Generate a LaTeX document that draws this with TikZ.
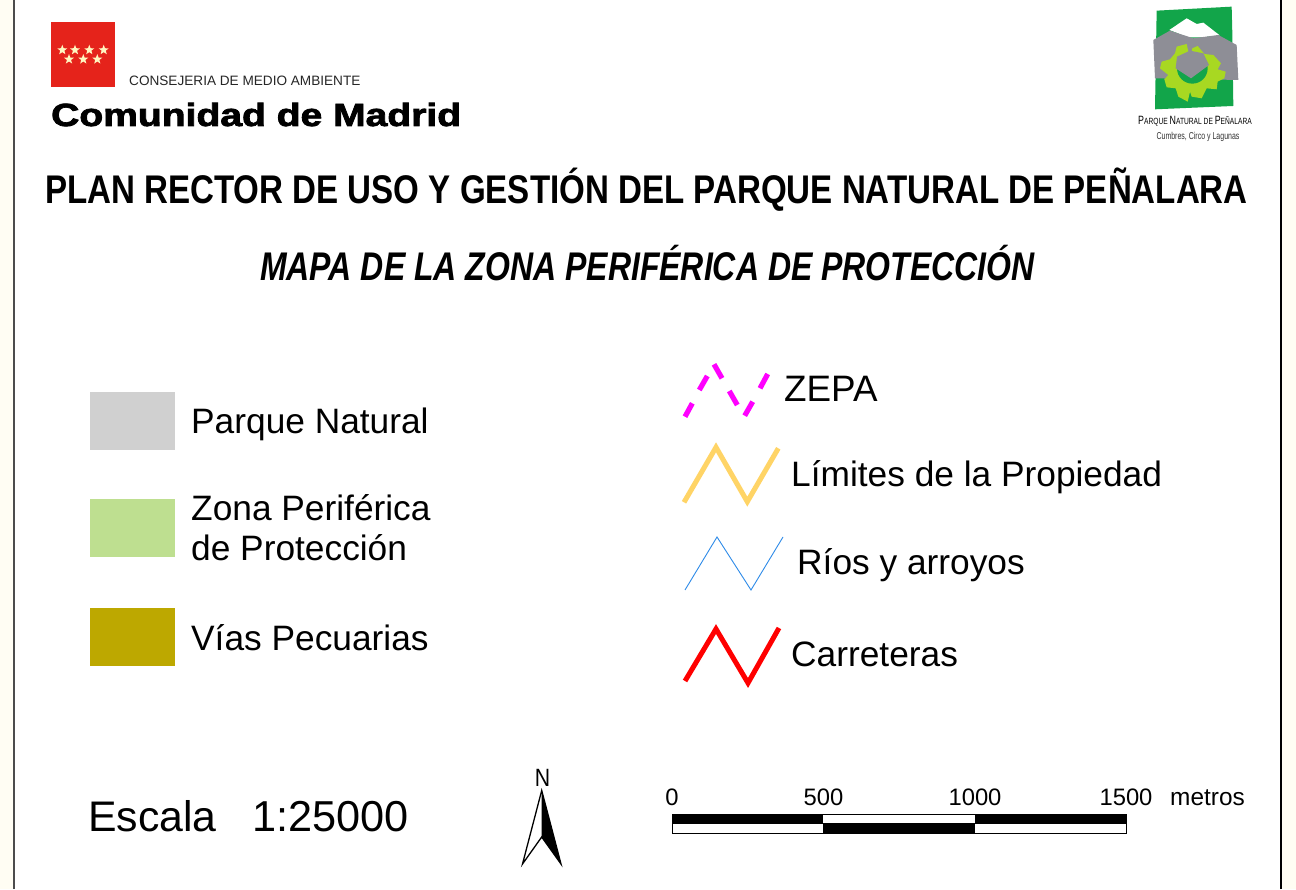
\documentclass[tikz,border=0pt]{standalone}
\usepackage{fontspec}
\usepackage{graphicx}
\setmainfont{Liberation Sans}
\newfontfamily\heavy[FakeBold=2.2]{Liberation Sans Bold}
\usetikzlibrary{shapes.geometric}
\definecolor{bgout}{HTML}{FFFDF3}
\definecolor{mredd}{HTML}{E5231B}
\definecolor{starc}{HTML}{FFF6C0}
\definecolor{cpark}{HTML}{D0D0D0}
\definecolor{czona}{HTML}{BEDF90}
\definecolor{cvias}{HTML}{BDA800}
\definecolor{czepa}{HTML}{FF00FF}
\definecolor{cprop}{HTML}{FFD466}
\definecolor{crios}{HTML}{2E8BE8}
\definecolor{lgreen}{HTML}{12A54A}
\definecolor{lgray}{HTML}{8E8E96}
\definecolor{llime}{HTML}{A8D822}
\tikzset{
 x=1pt,y=1pt,
 legtext/.style={anchor=west,inner sep=0pt,font=\fontsize{35.3}{40}\selectfont,align=left},
 swatch/.style={minimum width=85pt,minimum height=58pt,inner sep=0pt,anchor=north west},
 mstar/.style={star,star points=5,star point ratio=2.4,fill=starc,inner sep=0pt,minimum size=10.5pt},
 zig/.style={line join=miter,line cap=butt},
 sclab/.style={inner sep=0pt,anchor=base,font=\fontsize{23.8}{26}\selectfont}
}
\begin{document}
\begin{tikzpicture}
\useasboundingbox (0,0) rectangle (1296,889);
\fill[bgout] (0,0) rectangle (1296,889);
\fill[white] (14,0) rectangle (1281,889);
\draw[line width=1.3pt,black!70] (14,0) -- (14,889);
\draw[line width=1.3pt,black] (1281,0) -- (1281,889);
% Madrid logo
\fill[mredd] (51,802) rectangle (115,867);
\foreach \n/\px/\py in {a/62.3/50,b/75/50,c/89.3/50,d/103.7/50,e/69/59.3,f/83.3/59.3,g/97.3/59.3}
  \node[mstar,name=s\n] at (\px,889-\py) {};
\node[inner sep=0pt,anchor=base west,font=\fontsize{13.6}{15}\selectfont,text=black!85] (cons) at (129,803) {CONSEJERIA DE MEDIO AMBIENTE};
\node[inner sep=0pt,anchor=base west] (cam) at (51,763) {\scalebox{1.22}[1]{\heavy\fontsize{32}{36}\selectfont Comunidad de Madrid}};
% Peñalara logo
\begin{scope}[shift={(1135,889)},x=0.3333pt,y=-0.3333pt]
\fill[lgreen] (65,32) -- (290,20) -- (292,100) -- (295,318) -- (60,328) -- cycle;
\fill[white] (103,90) -- (155,55) -- (185,72) -- (205,68) -- (254,106) -- (200,112) -- (160,112) -- cycle;
\fill[lgray] (55,120) -- (105,92) -- (175,115) -- (250,105) -- (305,135) -- (310,240) -- (60,235) -- cycle;
\fill[llime] (168,165) -- (172,145) -- (188,138) -- (208,162) -- (235,165) -- (258,190) -- (248,208) -- (272,215)
  -- (268,235) -- (248,245) -- (245,268) -- (215,265) -- (200,295) -- (170,290) -- (165,275) -- (158,305)
  -- (130,290) -- (122,265) -- (95,262) -- (88,238) -- (100,225) -- (75,205) -- (80,185) -- (105,178)
  -- (120,160) -- (125,140) -- (155,132) -- (160,155) -- cycle;
\fill[lgreen] (172,205) circle[radius=46];
\fill[lgray] (122,205) -- (126,170) -- (165,152) -- (205,160) -- (222,195) -- (168,235) -- cycle;
\end{scope}
\node[inner sep=0pt,anchor=center] (lg1) at (1195,767.5) {\scalebox{0.74}[1]{\fontsize{12}{14}\selectfont P\fontsize{9}{14}\selectfont ARQUE \fontsize{12}{14}\selectfont N\fontsize{9}{14}\selectfont ATURAL DE \fontsize{12}{14}\selectfont P\fontsize{9}{14}\selectfont EÑALARA}};
\node[inner sep=0pt,anchor=center,text=black!80] (lg2) at (1198,752.5) {\scalebox{0.7}[1]{\fontsize{10}{12}\selectfont Cumbres, Circo y Lagunas}};
% titles
\node[inner sep=0pt,anchor=base] (t1) at (646.5,685) {\scalebox{0.8275}[1]{\bfseries\fontsize{40}{44}\selectfont PLAN RECTOR DE USO Y GESTIÓN DEL PARQUE NATURAL DE PEÑALARA}};
\node[inner sep=0pt,anchor=base] (t2) at (647.5,608) {\scalebox{0.8}[1]{\bfseries\itshape\fontsize{40}{44}\selectfont MAPA DE LA ZONA PERIFÉRICA DE PROTECCIÓN}};
% left legend
\node[swatch,fill=cpark] (sw1) at (90,497) {};
\node[swatch,fill=czona] (sw2) at (90,390) {};
\node[swatch,fill=cvias] (sw3) at (90,281) {};
\node[legtext] (l1) at (191,465) {Parque Natural};
\node[legtext] (l2) at (191,361) {Zona Periférica\\de Protección};
\node[legtext] (l3) at (191,251.5) {Vías Pecuarias};
% right legend
\begin{scope}[shift={(0,889)},y=-1pt]
\draw[czepa,line width=5.2pt,zig] (685,416.7) -- (692.3,403.3) (699.3,390) -- (707.3,376)
  (714,364.3) -- (722,378.3) (729.3,391) -- (737.3,405)
  (744.7,415.7) -- (752.7,401.7) (760,388.3) -- (767.7,374);
\draw[cprop,line width=5pt,zig] (684,502.3) -- (716,447.3) -- (747.3,501.7) -- (778.3,448.3);
\draw[crios,line width=0.9pt,zig] (685,590) -- (717,537) -- (751,590) -- (783,537);
\draw[red,line width=5pt,zig] (685,681) -- (716,629) -- (748,683) -- (779,628);
\end{scope}
\node[legtext,font=\fontsize{36.8}{40}\selectfont] (r1) at (784,500) {ZEPA};
\node[legtext] (r2) at (791,412) {Límites de la Propiedad};
\node[legtext] (r3) at (797,324) {Ríos y arroyos};
\node[legtext] (r4) at (791,235) {Carreteras};
% bottom
\node[inner sep=0pt,anchor=base west,font=\fontsize{42.8}{46}\selectfont] (esc) at (88,57) {Escala};
\node[inner sep=0pt,anchor=base west,font=\fontsize{43.3}{46}\selectfont] (sca) at (252,57) {1:25000};
% north arrow
\node[inner sep=0pt,anchor=base] (nn) at (542.5,102) {\scalebox{0.85}[1]{\fontsize{25}{28}\selectfont N}};
\coordinate (tip) at (541.7,98.5);
\coordinate (mid) at (541.7,52);
\coordinate (bl) at (522.5,25);
\coordinate (br) at (561,25);
\fill[black] (tip) -- (mid) -- (br) -- cycle;
\draw[line width=1.3pt,line join=miter] (tip) -- (bl) -- (mid) -- (br) -- cycle;
% scale bar
\fill[black] (672,75) rectangle (823,65);
\fill[black] (823,65) rectangle (974.5,56);
\fill[black] (974.5,75) rectangle (1126,65);
\draw[line width=0.7pt] (672,56) rectangle (1126,75);
\draw[line width=0.7pt] (672,65.5) -- (1126,65.5);
\node[sclab] (z0) at (672,83) {0};
\node[sclab] (z1) at (823.5,83) {500};
\node[sclab] (z2) at (975,83) {1000};
\node[sclab] (z3) at (1126,83) {1500};
\node[sclab,anchor=base west,font=\fontsize{24.4}{26}\selectfont] (z4) at (1170,83) {metros};
\end{tikzpicture}
\end{document}
